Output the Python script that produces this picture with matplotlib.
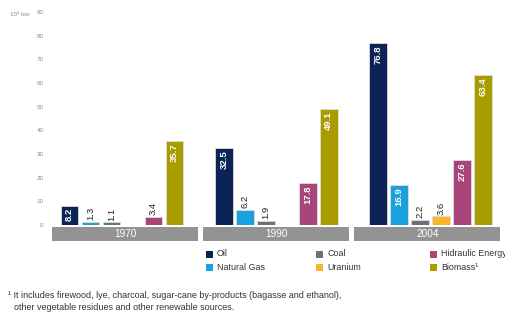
import numpy as np
import matplotlib.pyplot as plt
from matplotlib.patches import Rectangle

plt.rcParams['font.family'] = ['Liberation Sans', 'DejaVu Sans']

years = ['1970', '1990', '2004']
sources = ['Oil', 'Natural Gas', 'Coal', 'Uranium', 'Hidraulic Energy', 'Biomass¹']
colors = ['#0b2455', '#1ba1dd', '#67727c', '#fbb328', '#a7457a', '#a99c00']

oil = [8.2, 32.5, 76.8]
natural_gas = [1.3, 6.2, 16.9]
coal = [1.1, 1.9, 2.2]
uranium = [0.0, 0.0, 3.6]
hydraulic = [3.4, 17.8, 27.6]
biomass = [35.7, 49.1, 63.4]
series = [oil, natural_gas, coal, uranium, hydraulic, biomass]

fig = plt.figure(figsize=(5.06, 3.2), dpi=100)
ax = fig.add_axes([52 / 506, 1 - 225 / 320, 454 / 506, 213 / 320])

group_pitch = 7.35
band_pitch = 7.2
first = 0.83
width = 0.85

for i, (vals, col) in enumerate(zip(series, colors)):
    xs = first + np.arange(len(years)) * group_pitch + i
    for x, v in zip(xs, vals):
        if v <= 0:
            continue
        ax.bar(x, v, width=width, color=col, edgecolor='#dcdcdc', linewidth=0.6)
        label = f'{v:.1f}'
        if v > 7:
            ax.text(x, v - 1.0, label, rotation=90, ha='center', va='top',
                    color='white', fontsize=6.8, fontweight='bold')
        else:
            ax.text(x, v + 0.8, label, rotation=90, ha='center', va='bottom',
                    color='#222222', fontsize=6.8)

# grey year bands under each group
for g, yr in enumerate(years):
    x0 = g * band_pitch
    ax.add_patch(Rectangle((x0, -6.8), 6.95, 6.0, facecolor='#939393',
                           edgecolor='none', clip_on=False))
    ax.text(x0 + 6.95 / 2, -3.8, yr, ha='center', va='center',
            color='white', fontsize=7.2, clip_on=False)

ax.set_xlim(0, 454 / 21)
ax.set_ylim(0, 90)
ax.set_yticks(np.arange(0, 91, 10))
ax.tick_params(axis='y', length=0, labelsize=4.5, labelcolor='#8a8a8a', pad=6)
ax.set_xticks([])
for s in ax.spines.values():
    s.set_visible(False)

fig.text(10 / 506, 1 - 14 / 320, '10³ toe', fontsize=4.5, color='#8a8a8a',
         va='center', ha='left')

# legend laid out in three columns
col_x = [206, 316, 430]
row_y = [254, 267]
for i, (name, col) in enumerate(zip(sources, colors)):
    cx = col_x[i // 2]
    cy = row_y[i % 2]
    fig.add_artist(Rectangle((cx / 506, 1 - (cy + 3.5) / 320), 7 / 506, 7 / 320,
                             transform=fig.transFigure, facecolor=col,
                             edgecolor='none'))
    fig.text((cx + 11) / 506, 1 - cy / 320, name, fontsize=6.4,
             color='#333333', va='center', ha='left')

fig.text(8 / 506, 1 - 296 / 320,
         '¹ It includes firewood, lye, charcoal, sugar-cane by-products (bagasse and ethanol),',
         fontsize=6.5, color='#333333', va='center', ha='left')
fig.text(14 / 506, 1 - 308 / 320,
         'other vegetable residues and other renewable sources.',
         fontsize=6.5, color='#333333', va='center', ha='left')

fig.savefig('out.png', dpi=100)
